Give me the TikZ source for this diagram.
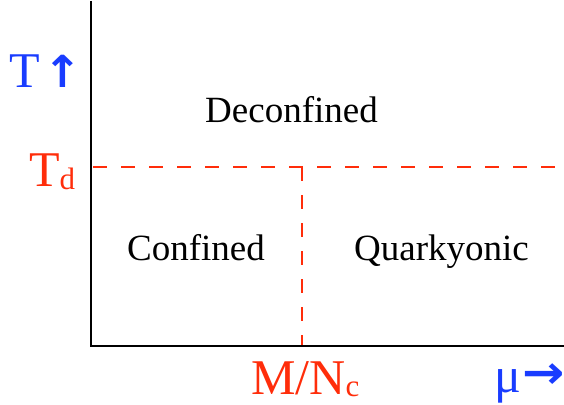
\documentclass[tikz,border=0pt]{standalone}
\usepackage{fontspec}
\setmainfont{Liberation Serif}
\newfontfamily\arrowfont{DejaVu Sans}
\definecolor{myred}{RGB}{255,45,10}
\definecolor{myblue}{RGB}{25,60,255}
\tikzset{
  axisline/.style={line width=2.2pt,black},
  dashline/.style={line width=2pt,myred,dash pattern=on 14pt off 14pt},
  region/.style={anchor=base west,inner sep=0pt,font=\fontsize{37}{42}\selectfont},
  axlab/.style={anchor=base west,inner sep=0pt,font=\fontsize{50}{54}\selectfont},
}
\begin{document}
\begin{tikzpicture}[x=1pt,y=-1pt]
\useasboundingbox (0,0) rectangle (564,404);
\coordinate (top) at (91,1);
\coordinate (orig) at (91,346);
\coordinate (right) at (564,346);
\coordinate (tdL) at (93,167);
\coordinate (tdR) at (564,167);
\coordinate (mnT) at (302,167);
\coordinate (mnB) at (302,345);
\draw[axisline] (top) -- (orig) -- (right);
\draw[dashline] (tdL) -- (tdR);
\draw[dashline] (mnT) -- (mnB);
\node[region] (dec) at (205,122) {Deconfined};
\node[region] (con) at (127,260) {Confined};
\node[region] (qua) at (354,260) {Quarkyonic};
\node[axlab,myblue] (tlab) at (9,87) {T\hspace{4pt}\scalebox{1.1}[1.05]{\arrowfont\fontsize{42}{44}\selectfont\bfseries ↑}};
\node[axlab,myred] (tdlab) at (29,186) {T\raisebox{-3pt}{\fontsize{31}{32}\selectfont d}};
\node[axlab,myred] (mnlab) at (251,394) {M/N\raisebox{-2pt}{\fontsize{31}{32}\selectfont c}};
\node[axlab,myblue] (mulab) at (494,392) {μ\hspace{1pt}\raisebox{4pt}{\scalebox{1.1}[1]{\arrowfont\fontsize{46}{48}\selectfont\bfseries →}}};
\end{tikzpicture}
\end{document}
